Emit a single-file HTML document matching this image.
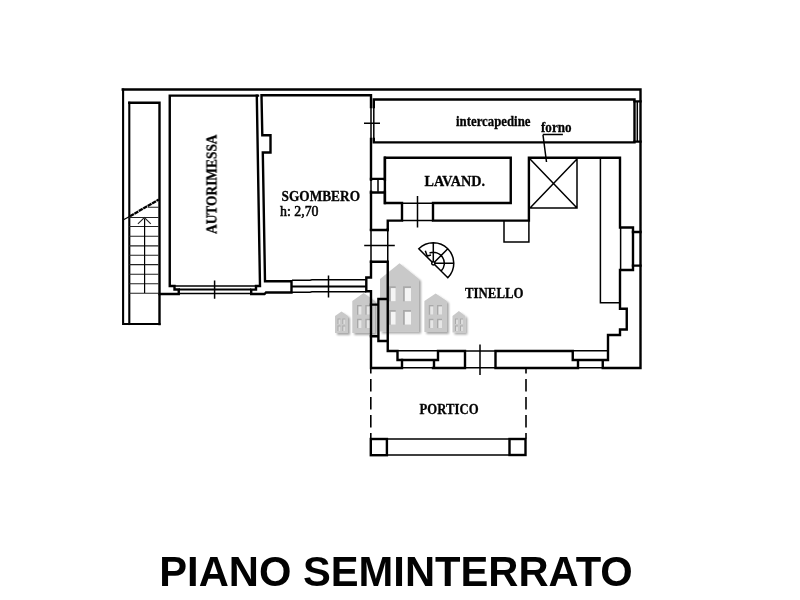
<!DOCTYPE html>
<html><head><meta charset="utf-8">
<style>
html,body{margin:0;padding:0;background:#fff;width:800px;height:600px;overflow:hidden}
svg{position:absolute;left:0;top:0}
.t{font-family:"Liberation Serif",serif;font-weight:700;fill:#000}
.ti{font-family:"Liberation Sans",sans-serif;font-weight:700;fill:#000}
</style></head>
<body>
<svg width="800" height="600" viewBox="0 0 800 600">
<defs>
<filter id="sh" x="-20%" y="-20%" width="140%" height="140%">
<feGaussianBlur in="SourceAlpha" stdDeviation="1.2"/>
<feOffset dx="1.5" dy="1.5" result="b"/>
<feComponentTransfer in="b" result="c"><feFuncA type="linear" slope="0.35"/></feComponentTransfer>
<feMerge><feMergeNode in="c"/><feMergeNode in="SourceGraphic"/></feMerge>
</filter>
</defs>
<!-- watermark -->
<g filter="url(#sh)">
<g fill="#c9c9c9">
<path d="M380 279 L399.5 263.3 L419 279 V331.5 H380 Z"/>
<path d="M352.3 301 L363.6 293 L375 301 V333 H352.3 Z"/>
<path d="M424.4 301 L435.6 293.4 L446.9 301 V332 H424.4 Z"/>
<path d="M335 316 L341.5 311.5 L348 316 V333 H335 Z"/>
<path d="M452.5 316 L458.9 311 L465.3 316 V332.5 H452.5 Z"/>
</g>
<g><rect x="389" y="286.3" width="6.7" height="15" fill="#a9a9a9"/><rect x="390.80" y="288.10" width="4.90" height="13.20" fill="#f4f4f4"/><rect x="389" y="310" width="6.7" height="14.7" fill="#a9a9a9"/><rect x="390.80" y="311.80" width="4.90" height="12.90" fill="#f4f4f4"/><rect x="403" y="286.3" width="8" height="15" fill="#a9a9a9"/><rect x="404.80" y="288.10" width="6.20" height="13.20" fill="#f4f4f4"/><rect x="403" y="310" width="8" height="14.7" fill="#a9a9a9"/><rect x="404.80" y="311.80" width="6.20" height="12.90" fill="#f4f4f4"/><rect x="357" y="305" width="4.6" height="9.7" fill="#a9a9a9"/><rect x="358.40" y="306.40" width="3.20" height="8.30" fill="#e6e6e6"/><rect x="357" y="318.8" width="4.6" height="9.3" fill="#a9a9a9"/><rect x="358.40" y="320.20" width="3.20" height="7.90" fill="#e6e6e6"/><rect x="365.3" y="305" width="4.7" height="9.7" fill="#a9a9a9"/><rect x="366.70" y="306.40" width="3.30" height="8.30" fill="#e6e6e6"/><rect x="365.3" y="318.8" width="4.7" height="9.3" fill="#a9a9a9"/><rect x="366.70" y="320.20" width="3.30" height="7.90" fill="#e6e6e6"/><rect x="428.8" y="305" width="4.6" height="9.7" fill="#a9a9a9"/><rect x="430.20" y="306.40" width="3.20" height="8.30" fill="#e6e6e6"/><rect x="428.8" y="318.8" width="4.6" height="9.3" fill="#a9a9a9"/><rect x="430.20" y="320.20" width="3.20" height="7.90" fill="#e6e6e6"/><rect x="437" y="305" width="5" height="9.7" fill="#a9a9a9"/><rect x="438.40" y="306.40" width="3.60" height="8.30" fill="#e6e6e6"/><rect x="437" y="318.8" width="5" height="9.3" fill="#a9a9a9"/><rect x="438.40" y="320.20" width="3.60" height="7.90" fill="#e6e6e6"/><rect x="337.5" y="318.5" width="3" height="5.5" fill="#aaa"/><rect x="338.5" y="319.5" width="2" height="4.5" fill="#dcdcdc"/><rect x="337.5" y="325.5" width="3" height="5.5" fill="#aaa"/><rect x="338.5" y="326.5" width="2" height="4.5" fill="#dcdcdc"/><rect x="342.3" y="318.5" width="3" height="5.5" fill="#aaa"/><rect x="343.3" y="319.5" width="2" height="4.5" fill="#dcdcdc"/><rect x="342.3" y="325.5" width="3" height="5.5" fill="#aaa"/><rect x="343.3" y="326.5" width="2" height="4.5" fill="#dcdcdc"/><rect x="455" y="318.5" width="3" height="5.5" fill="#aaa"/><rect x="456" y="319.5" width="2" height="4.5" fill="#dcdcdc"/><rect x="455" y="325.5" width="3" height="5.5" fill="#aaa"/><rect x="456" y="326.5" width="2" height="4.5" fill="#dcdcdc"/><rect x="460" y="318.5" width="3" height="5.5" fill="#aaa"/><rect x="461" y="319.5" width="2" height="4.5" fill="#dcdcdc"/><rect x="460" y="325.5" width="3" height="5.5" fill="#aaa"/><rect x="461" y="326.5" width="2" height="4.5" fill="#dcdcdc"/></g>
</g>

<g fill="none" stroke="#000" stroke-linecap="square" stroke-linejoin="miter">
<!-- THICK walls -->
<g stroke-width="2.4">
<!-- outer top/right and left block -->
<path d="M122.75 89.5 H640.5 V368 H602.75 V360 M578 360 V368 H495.5 V351 H572.75 V360 H608 V335 H620 V329.5 H626.75 V308.75 H620 V270 H633 V227.5 H620 V157.8 H528.9 V220.6 H433 V203 H510.75 V157.8 H384.9 V203 H402 V220.6 H387.75 V230 H371"/>
<path d="M633 232 H640.5 M633 265.6 H640.5"/>
<path stroke-width="2.1" d="M123.1 89.5 V324 H159.5"/>
<path d="M129.3 324 V102.75" stroke-width="2.1"/><path d="M129.3 102.75 H159.5 V324"/>
<!-- autorimessa -->
<path d="M258 95.6 H169.75 V286 H174.5 V289.5 H178.75 V294 H159.5"/>
<path d="M256.8 95.6 L260 286 H256 V289.6 H251.2 V294 H264.5 L266 292.5 H291.5 V281.2 H265 L262.8 152.5 H270.5 V135.2 H262.3 L261.5 95.2 H371 V107"/>
<!-- intercapedine -->
<path d="M373.8 107 V99.5 H634.5 V142.4 H373.8 V139"/>
<path d="M634.5 101.4 H640.5 M634.5 141.6 H640.5"/>
<!-- west wall -->
<path d="M371 139 V179.7 M371 191.7 V229.5 M371 261.7 V277.5 H366.3 V291.2 H371 V368 H402 V360"/>
<path d="M371 178.9 H384.9 M371 192.5 H384.9 M384.9 179.7 V157.8 M384.9 191.7 V203"/>
<path d="M371 261.7 H387.75 V341 H378.4 V299 H387.75 M371 304.6 H378.4 M371 336.3 H378.4 M387.75 341 V351 H397.5 V360 H438 V351 H465 V368 H434 V360 M433 368 H434"/>
<path d="M387.75 230 V229.5"/>
</g>
<!-- THIN lines -->
<g stroke-width="1.5" stroke-linecap="butt">
<path d="M371 107 V139 M373.8 107 V139 M364 123.2 H380"/>
<path d="M371 179.7 V191.7 M378 179.7 V191.7 M384.9 179.7 V191.7"/>
<path d="M402 203.3 H433 M402 220.6 H433 M417.5 196 V227.5"/>
<path d="M371 230 V261.7 M387.75 230 V261.7 M364.2 245.5 H394.8"/>
<path stroke-width="1.9" d="M292 286.5 H366.3"/><path d="M292 280.2 H310 L312 279.8 H366.3 M292 292.2 H310 L312 291.8 H366.3 M328.5 275.6 V297.5"/>
<path d="M174.5 286 H256 M178.75 293.5 H251.2 M214.6 280.6 V298.75"/><path stroke-width="2" d="M178.75 289.6 H251.2"/>
<path d="M402 367.8 H434 M397.5 350.8 H438 M578 367.8 H602.75 M572.75 350.8 H608 M465 351 H495.5 M465 367.8 H495.5 M480 344.4 V375"/>
<path d="M530 159 L577 208 M577 159 L530 208 M577 159 V208 H530"/>
<path d="M600.4 159 V302.75 H620"/>
<path d="M504 220.6 V242 H528.9 V220.6"/>
<path d="M620.6 228 V270"/>
<path d="M637.3 101.4 V141.6"/>
<path d="M542.75 134.6 H562.9 M543 135 L546.5 162"/>
<path d="M387 439 H509.5 M387 455 H509.5"/>
<path d="M370.8 369 V438.5 M526 369 V438.5" stroke-width="1.6" stroke-dasharray="12.5 5.5" stroke-dashoffset="8"/>
<!-- stair -->
<path stroke-width="1.1" stroke="#222" d="M148 207.3 H158.5 M129 217.5 H158.5 M129 226.5 H158.5 M129 236.3 H158.5 M129 245.9 H158.5 M129 255.3 H158.5 M129 264.6 H158.5 M129 274.3 H158.5 M129 283.8 H158.5 M129 293.3 H158.5"/><path stroke-width="1.2" stroke-linecap="butt" d="M144.6 218.5 V293"/>
<path stroke-width="1.1" stroke="#222" d="M137.9 223.8 L144.4 217.6 L150.8 223.8"/>
<!-- spiral -->
<path d="M418.8 248.8 A20.5 20.5 0 0 1 447.8 277.8 Z M433.3 242.8 V261.5 M434.6 262 L447.8 248.8 M435 263.3 H453.8 M429.5 253 A11 11 0 0 1 441.1 271.1"/>
<circle cx="433.3" cy="263.3" r="1.6" fill="#fff"/>
<path d="M425.3 250.8 L427.2 256 L431 255"/>
</g>
<g stroke-width="2.4">
<rect x="370.8" y="439" width="16.1" height="16.2"/>
<rect x="509.5" y="439" width="16" height="16"/>
</g>
<path stroke-width="1.3" stroke-linecap="butt" d="M123 220 L130 216.2"/><path stroke-width="2.3" stroke-linecap="butt" stroke-dasharray="4.5 0.6" d="M130 216.2 L158.7 199.6"/>
</g>

<!-- labels -->
<g class="t" opacity="0.99" stroke="#000" stroke-width="0.3">
<text x="281.5" y="201.3" font-size="14.5" textLength="78.5" lengthAdjust="spacingAndGlyphs">SGOMBERO</text>
<text x="280" y="215.6" font-size="14.5" font-weight="400" stroke-width="0.55" textLength="38.5" lengthAdjust="spacingAndGlyphs">h: 2,70</text>
<text x="424.5" y="185.9" font-size="14.5" textLength="60.5" lengthAdjust="spacingAndGlyphs">LAVAND.</text>
<text x="465" y="297.75" font-size="14.5" textLength="58.5" lengthAdjust="spacingAndGlyphs">TINELLO</text>
<text x="419.6" y="414.1" font-size="14.5" textLength="59" lengthAdjust="spacingAndGlyphs">PORTICO</text>
<text x="456" y="126.4" font-size="14" textLength="74.5" lengthAdjust="spacingAndGlyphs">intercapedine</text>
<text x="541" y="131.6" font-size="14" textLength="30.5" lengthAdjust="spacingAndGlyphs">forno</text>
<text transform="translate(216.5 234) rotate(-90)" font-size="14.5" textLength="99.5" lengthAdjust="spacingAndGlyphs">AUTORIMESSA</text>
</g>
<text class="ti" opacity="0.99" x="159.3" y="586" font-size="42.5" textLength="473.5" lengthAdjust="spacingAndGlyphs">PIANO SEMINTERRATO</text>
</svg>
</body></html>
